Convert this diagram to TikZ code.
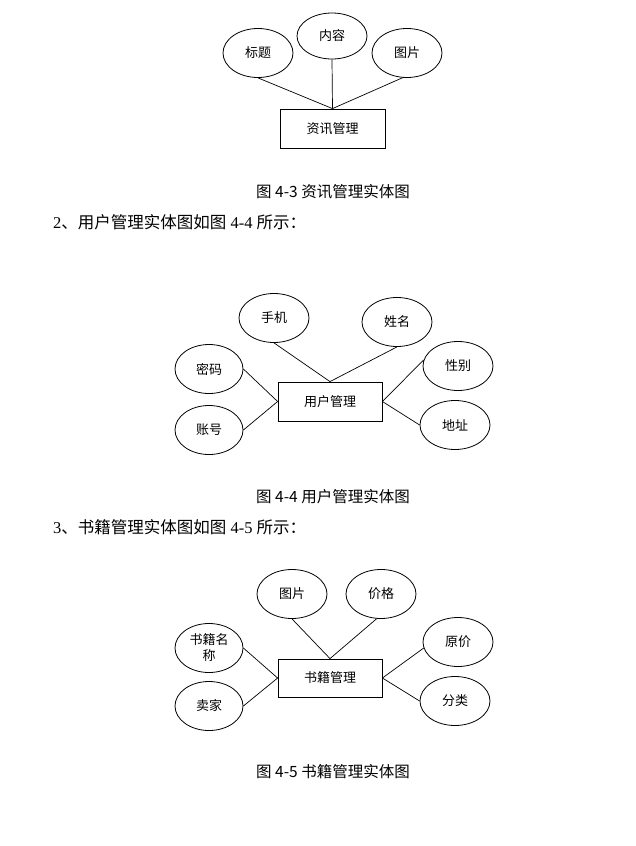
\documentclass[tikz,border=0pt]{standalone}
\usepackage{fontspec}
\setmainfont{Liberation Serif}
\newfontfamily\cjk{Noto Sans CJK SC}
\usetikzlibrary{shapes.geometric}
\begin{document}
\begin{tikzpicture}[x=1pt,y=-1pt,
 attr/.style={draw, ellipse, line width=0.8pt, minimum width=70pt, minimum height=49pt, inner sep=0pt, font=\cjk\fontsize{13}{16}\selectfont, align=center},
 ent/.style={draw, rectangle, line width=0.8pt, minimum width=104pt, minimum height=39pt, inner sep=0pt, font=\cjk\fontsize{13}{16}\selectfont},
 conn/.style={line width=0.7pt},
 captxt/.style={font=\cjk\fontsize{15.5}{18}\selectfont, inner sep=0pt},
 bodytxt/.style={font=\fontsize{16.5}{19}\selectfont, inner sep=0pt, anchor=west}]
\useasboundingbox[fill=white] (0,0) rectangle (636,846);

% ---------- Diagram 4-3 ----------
\node[ent, minimum width=105pt] (e1) at (332.5,128.5) {资讯管理};
\node[attr] (a11) at (258,53) {标题};
\node[attr, minimum height=46pt] (a12) at (332,36) {内容};
\node[attr] (a13) at (407,53) {图片};
\draw[conn] (a11.south) -- (e1.north);
\draw[conn] (a12.south) -- (e1.north);
\draw[conn] (a13.-100) -- (e1.north);
\node[captxt] (c1) at (333,192) {图 4-3 资讯管理实体图};

\node[bodytxt] (t2) at (53,222) {2{\cjk 、用户管理实体图如图} 4-4 {\cjk 所示：}};

% ---------- Diagram 4-4 ----------
\node[ent] (e2) at (330,401.5) {用户管理};
\node[attr] (a21) at (274,318) {手机};
\node[attr] (a22) at (397,322) {姓名};
\node[attr, minimum width=68pt] (a23) at (209,369) {密码};
\node[attr, minimum width=68pt] (a24) at (209,430) {账号};
\node[attr] (a25) at (458,366) {性别};
\node[attr] (a26) at (455,425) {地址};
\draw[conn] (a21.south) -- (e2.north);
\draw[conn] (a22.south) -- (e2.north);
\draw[conn] (a23.east) -- (e2.west);
\draw[conn] (a24.east) -- (e2.west);
\draw[conn] (e2.east) -- (a25.170);
\draw[conn] (e2.east) -- (a26.west);
\node[captxt] (c2) at (333,497) {图 4-4 用户管理实体图};

\node[bodytxt] (t3) at (53,527) {3{\cjk 、书籍管理实体图如图} 4-5 {\cjk 所示：}};

% ---------- Diagram 4-5 ----------
\node[ent, minimum height=38pt] (e3) at (330,678) {书籍管理};
\node[attr] (a31) at (292,594) {图片};
\node[attr] (a32) at (381,594) {价格};
\node[attr, minimum width=68pt] (a33) at (209,648) {书籍名\\称};
\node[attr, minimum width=68pt] (a34) at (209,706) {卖家};
\node[attr] (a35) at (458,642) {原价};
\node[attr] (a36) at (455,701) {分类};
\draw[conn] (a31.south) -- (e3.north);
\draw[conn] (a32.-100) -- (e3.north);
\draw[conn] (a33.east) -- (e3.west);
\draw[conn] (a34.east) -- (e3.west);
\draw[conn] (e3.east) -- (a35.190);
\draw[conn] (e3.east) -- (a36.west);
\node[captxt] (c3) at (333,772) {图 4-5 书籍管理实体图};
\end{tikzpicture}
\end{document}
